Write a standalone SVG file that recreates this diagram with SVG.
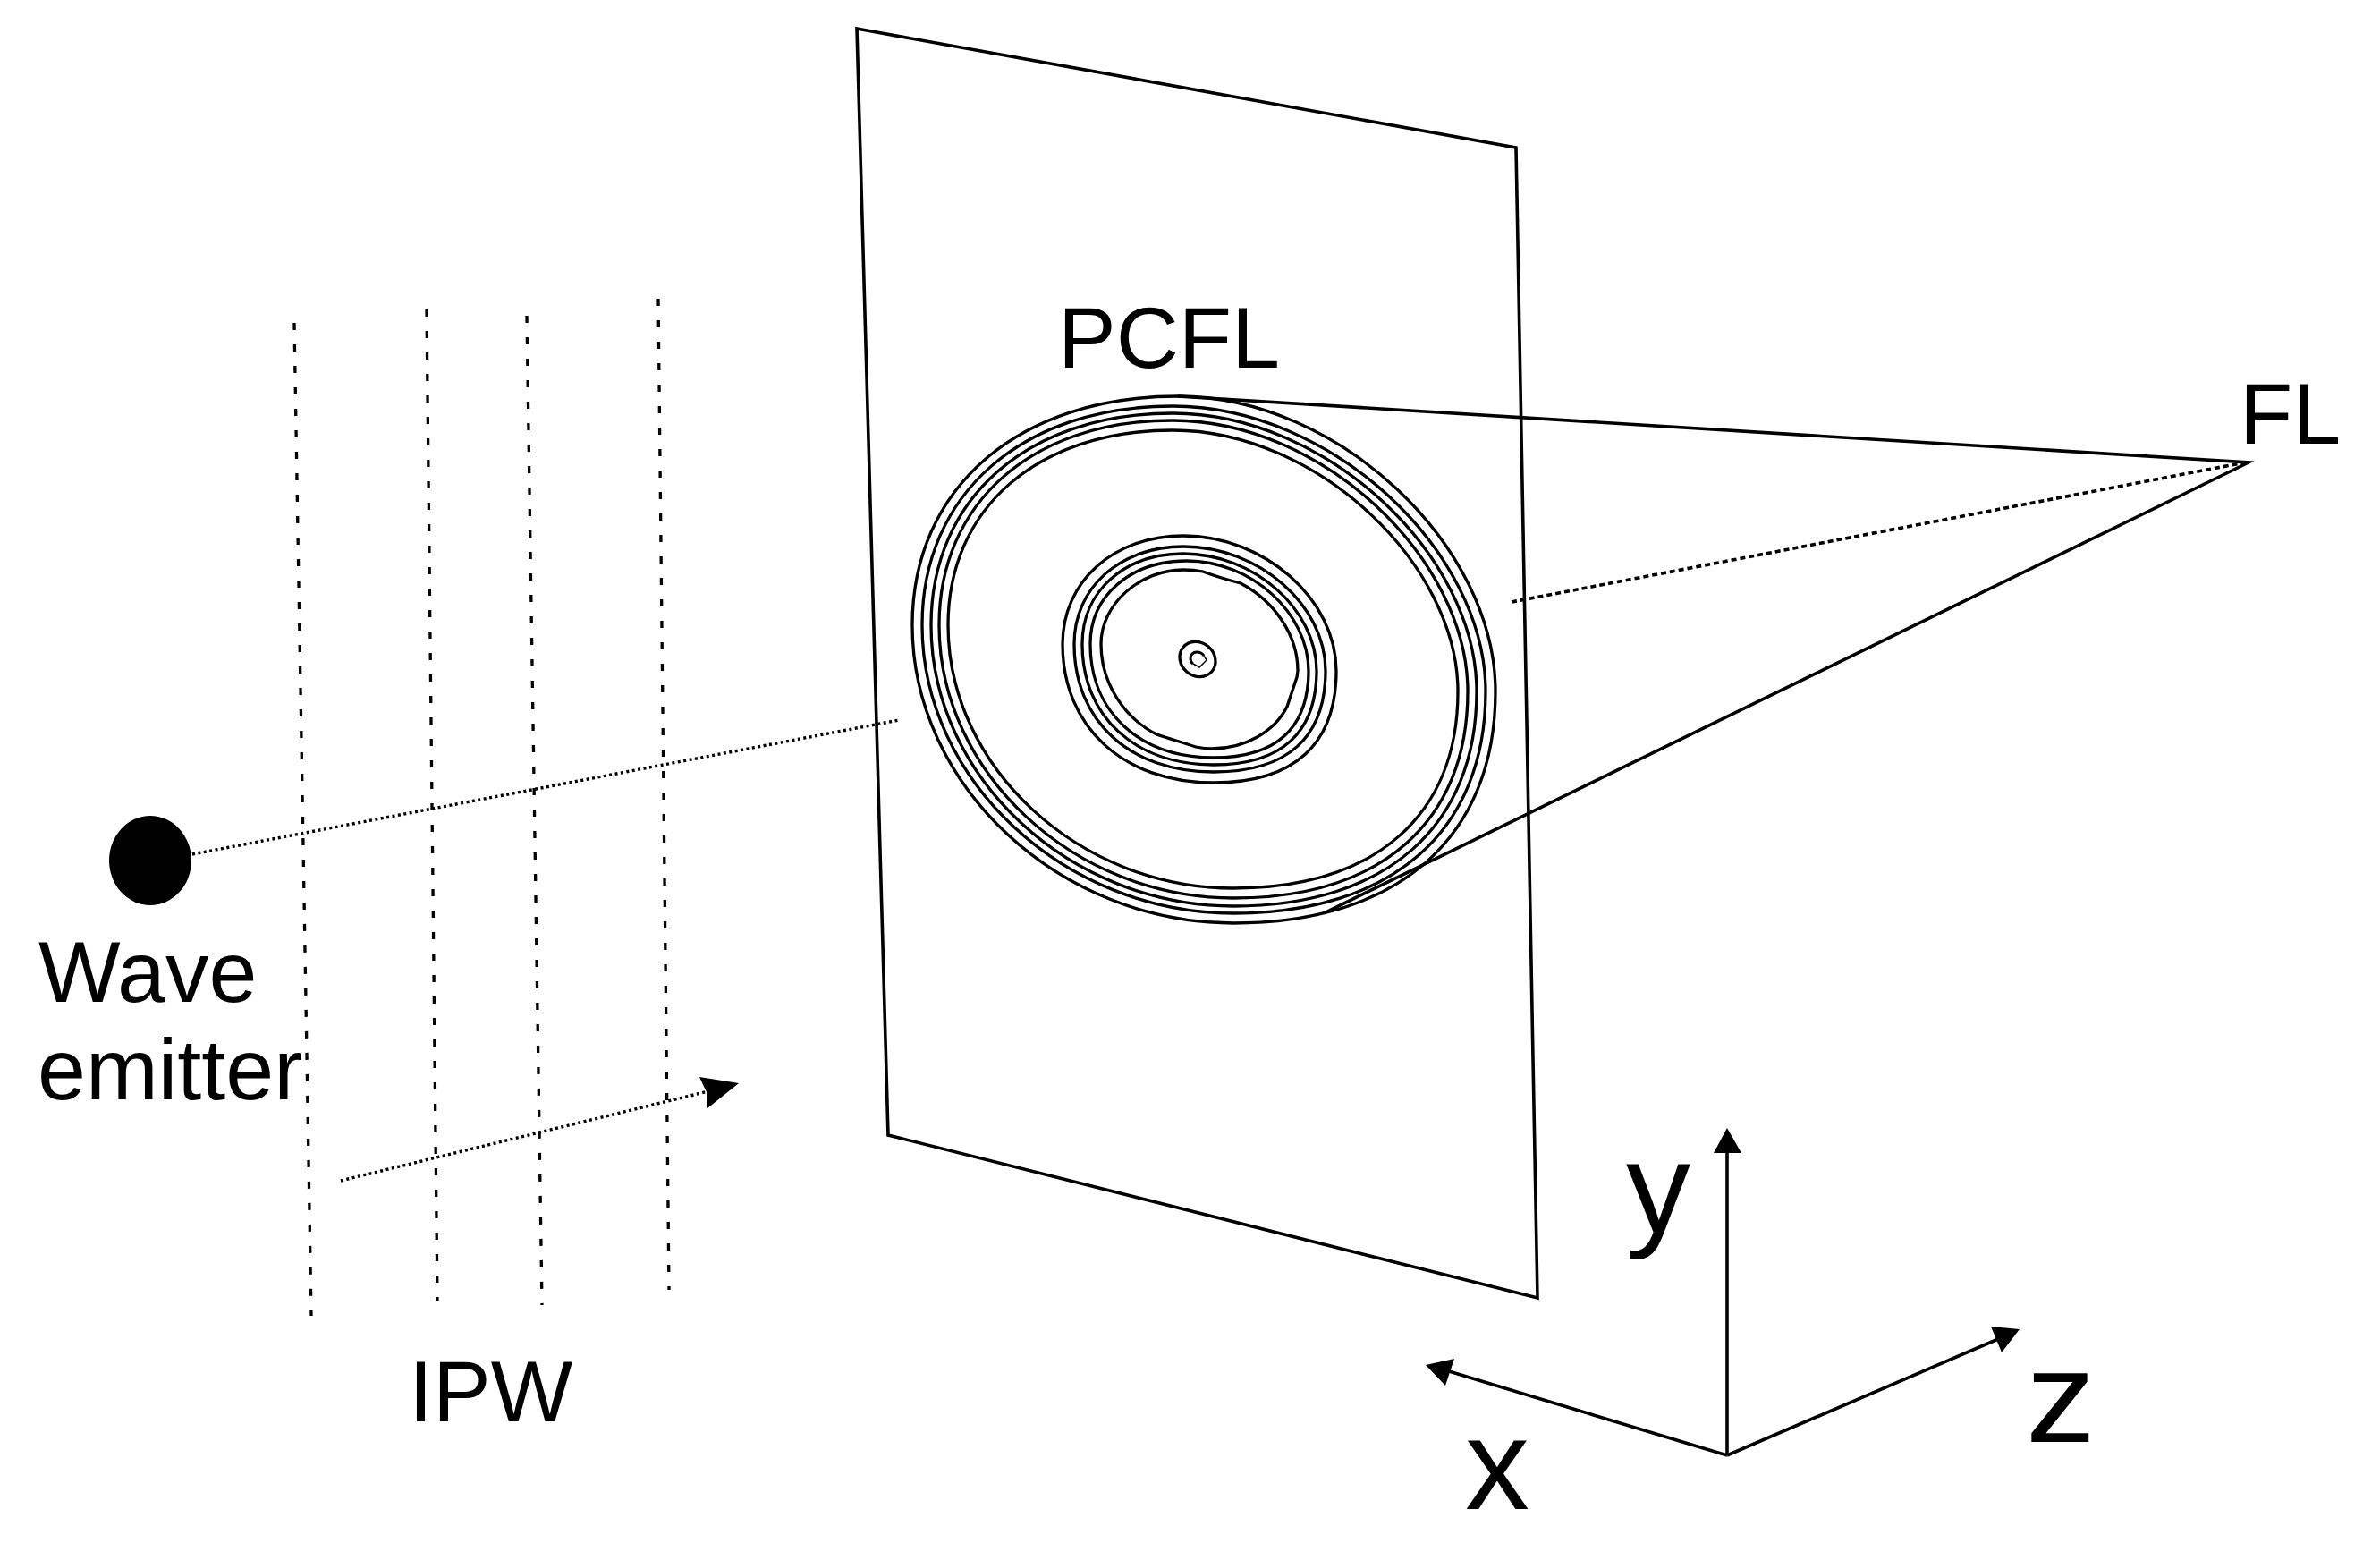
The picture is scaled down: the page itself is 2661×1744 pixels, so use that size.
<svg xmlns="http://www.w3.org/2000/svg" width="2661" height="1744" viewBox="0 0 2661 1744">
<style>
.s{fill:none;stroke:#000;stroke-width:3.6;stroke-linejoin:miter}
.r{fill:none;stroke:#000;stroke-width:3.3}
.dash{fill:none;stroke:#000;stroke-width:3.3;stroke-dasharray:8 16}
.dot{fill:none;stroke:#000;stroke-width:3.4;stroke-dasharray:3 3.5}
.fl{fill:none;stroke:#000;stroke-width:3.6;stroke-dasharray:6 4}
.h{fill:#000;stroke:none}
text{font-family:"Liberation Sans",Arial,sans-serif;fill:#000;font-size:97px}
.ax{font-size:144px}
</style>
<rect width="2661" height="1744" fill="#fff"/>
<g id="plane"><path class="s" d="M958,32 L1695,165 L1719,1451 L993,1269 Z"/></g>
<g id="lens">
<path class="r" d="M1020,699 C1020,545 1139,443 1317,443 C1498,443 1672,611 1672,773 C1672,936 1564,1032 1379,1032 C1185,1032 1020,879 1020,699 Z"/>
<path class="r" d="M1031,699 C1031,552 1143,454 1311,454 C1490,454 1661,617 1661,773 C1661,929 1557,1021 1379,1021 C1191,1021 1031,873 1031,699 Z"/>
<path class="r" d="M1041,699 C1041,557 1149,462 1311,462 C1484,462 1651,621 1651,773 C1651,924 1550,1013 1379,1013 C1196,1013 1041,869 1041,699 Z"/>
<path class="r" d="M1050,699 C1050,562 1154,470 1311,470 C1479,470 1641,625 1641,773 C1641,919 1544,1004 1379,1004 C1201,1004 1050,864 1050,699 Z"/>
<path class="r" d="M1060,699 C1060,568 1160,481 1311,481 C1474,481 1630,632 1630,773 C1630,912 1537,993 1379,993 C1207,993 1060,858 1060,699 Z"/>
<path class="r" d="M1188,720 C1188,650 1245,599 1323,599 C1414,599 1494,670 1494,750 C1494,832 1447,875 1357,875 C1256,875 1188,813 1188,720 Z"/>
<path class="r" d="M1201,720 C1201,657 1252,611 1323,611 C1407,611 1482,676 1482,750 C1482,825 1439,863 1357,863 C1263,863 1201,806 1201,720 Z"/>
<path class="r" d="M1210,720 C1210,661 1257,619 1323,619 C1402,619 1472,681 1472,750 C1472,819 1433,855 1357,855 C1269,855 1210,801 1210,720 Z"/>
<path class="r" d="M1219,720 C1219,666 1264,627 1327,627 C1399,627 1463,685 1463,750 C1463,814 1427,847 1357,847 C1274,847 1219,796 1219,720 Z"/>
<path class="r" d="M1231,720 C1231,675 1275,637 1323,637 C1333,637 1340,638 1345,639 C1358,644 1372,648 1387,652 C1425,672 1451,710 1451,750 L1450,757 L1439,790 C1425,818 1392,837 1355,837 C1348,837 1342,836 1337,835 C1322,830 1308,826 1293,821 C1258,803 1231,765 1231,720 Z"/>
<ellipse class="r" cx="1339" cy="737" rx="21" ry="18.5" transform="rotate(40 1339 737)"/>
<path d="M1346,733 C1344,730 1341,729 1338,729 C1334,729 1331,732 1331,736 C1331,739 1332,741 1334,742" fill="none" stroke="#000" stroke-width="3"/>
<path d="M1346,733 L1349,738 L1341,746 L1334,742" fill="none" stroke="#000" stroke-width="1.5"/>
</g>
<g id="emitter"><ellipse cx="168" cy="962" rx="46" ry="50" fill="#000"/></g>
<g id="connectors">
<path class="s" d="M1317,443 L2514,517 L1480,1021"/>
<path class="fl" d="M1690,673 L2510,517"/>
<path class="dot" d="M215,955 L1005,805"/>
<path class="dash" d="M329,361 L348,1471"/>
<path class="dash" d="M477,346 L489,1454"/>
<path class="dash" d="M589,353 L606,1459"/>
<path class="dash" d="M736,334 L748,1442"/>
<path class="dot" d="M381,1320 L792,1220"/>
<path class="h" d="M826,1211 L782,1204 L790,1221 L791,1239 Z"/>
<path class="s" d="M1931,1627 L1931,1285"/>
<path class="h" d="M1931,1261 L1947,1289 L1916,1289 Z"/>
<path class="s" d="M1931,1627 L2234,1497"/>
<path class="h" d="M2258,1486 L2226,1483 L2238,1512 Z"/>
<path class="s" d="M1931,1627 L1620,1533"/>
<path class="h" d="M1594,1526 L1626,1519 L1616,1549 Z"/>
</g>
<g id="labels">
<text x="1183" y="411">PCFL</text>
<text x="2504" y="496">FL</text>
<text x="43" y="1120">Wave</text>
<text x="42" y="1229">emitter</text>
<text x="457" y="1589">IPW</text>
<text class="ax" x="1818" y="1378">y</text>
<text class="ax" x="2265" y="1612" textLength="78" lengthAdjust="spacingAndGlyphs">z</text>
<text class="ax" x="1638" y="1687">x</text>
</g>
</svg>
